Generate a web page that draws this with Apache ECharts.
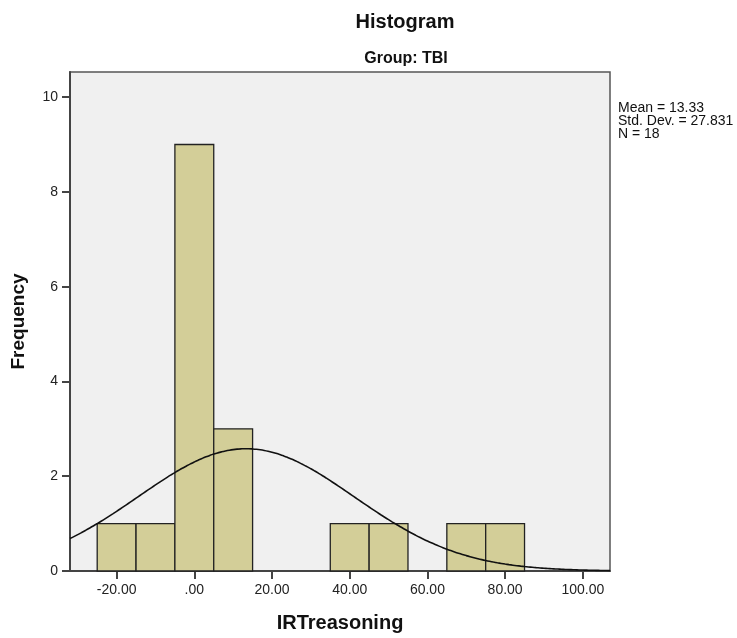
<!DOCTYPE html>
<html>
<head>
<meta charset="utf-8">
<script src="https://cdn.jsdelivr.net/npm/echarts@6/dist/echarts.min.js"></script>
<style>
html,body{margin:0;padding:0;background:#fff;}
#chart{width:737px;height:638px;}
</style>
</head>
<body>
<div id="chart"></div>
<script>
// Histogram bins (lower edge, upper edge) and frequencies
var binStarts = [-25, -15, -5, 5, 15, 25, 35, 45, 55, 65, 75];
var binEnds   = [-15, -5, 5, 15, 25, 35, 45, 55, 65, 75, 85];
var frequencies = [1, 1, 9, 3, 0, 0, 1, 1, 0, 1, 1];
// Fitted normal parameters shown in the chart
var stats = { mean: 13.33, sd: 27.831, n: 18 };
var binWidth = [10];
var xTicks = [-20, 0, 20, 40, 60, 80, 100];
var xTickLabels = ['-20.00', '.00', '20.00', '40.00', '60.00', '80.00', '100.00'];
var yTicks = [0, 2, 4, 6, 8, 10];

var barData = [];
for (var i = 0; i < frequencies.length; i++) {
  if (frequencies[i] > 0) barData.push([binStarts[i], binEnds[i], frequencies[i]]);
}
// normal curve: N * binWidth * pdf(x)
var curve = [];
for (var x = -32; x <= 107; x += 1) {
  var z = (x - stats.mean) / stats.sd;
  curve.push([x, stats.n * binWidth[0] * Math.exp(-0.5 * z * z) / (stats.sd * Math.sqrt(2 * Math.PI))]);
}

var chart = echarts.init(document.getElementById('chart'));
var font = 'Liberation Sans, Arial, sans-serif';
chart.setOption({
  animation: false,
  grid: { left: 70, right: 127, top: 72, bottom: 65, show: true,
          backgroundColor: '#f0f0f0', borderColor: '#555', borderWidth: 1.5 },
  xAxis: {
    type: 'value', min: -32, max: 107,
    name: 'IRTreasoning', nameLocation: 'middle', nameGap: 42,
    nameTextStyle: { fontFamily: font, fontSize: 20, fontWeight: 'bold', color: '#111' },
    splitLine: { show: false },
    axisLine: { onZero: false, lineStyle: { color: '#444', width: 2 } },
    axisTick: { show: true, length: 8, customValues: xTicks, lineStyle: { color: '#444', width: 2 } },
    axisLabel: { customValues: xTicks, fontFamily: font, fontSize: 14, color: '#222', margin: 12,
      formatter: function (v) { var k = xTicks.indexOf(v); return k >= 0 ? xTickLabels[k] : ''; } }
  },
  yAxis: {
    type: 'value', min: 0, max: 10.53,
    name: 'Frequency', nameLocation: 'middle', nameGap: 42,
    nameTextStyle: { fontFamily: font, fontSize: 19, fontWeight: 'bold', color: '#111' },
    splitLine: { show: false },
    axisLine: { show: true, onZero: false, lineStyle: { color: '#444', width: 2 } },
    axisTick: { show: true, length: 8, customValues: yTicks, lineStyle: { color: '#444', width: 2 } },
    axisLabel: { customValues: yTicks, fontFamily: font, fontSize: 14, color: '#222', margin: 12 }
  },
  graphic: [{
    type: 'text', x: 405, y: 22,
    style: { text: 'Histogram', fontFamily: font, fontSize: 20, fontWeight: 'bold', fill: '#111',
      align: 'center', verticalAlign: 'middle' }
  }, {
    type: 'text', x: 406, y: 59,
    style: { text: 'Group: TBI', fontFamily: font, fontSize: 16, fontWeight: 'bold', fill: '#111',
      align: 'center', verticalAlign: 'middle' }
  }, {
    type: 'text', x: 618, y: 102,
    style: { text: 'Mean = ' + stats.mean.toFixed(2) + '\nStd. Dev. = ' + stats.sd.toFixed(3) + '\nN = ' + stats.n,
      fontFamily: font, fontSize: 14, lineHeight: 13, fill: '#111' }
  }],
  series: [{
    type: 'custom',
    data: barData,
    encode: { x: [0, 1], y: 2 },
    renderItem: function (params, api) {
      var p0 = api.coord([api.value(0), api.value(2)]);
      var p1 = api.coord([api.value(1), 0]);
      return { type: 'rect',
        shape: { x: p0[0], y: p0[1], width: p1[0] - p0[0], height: p1[1] - p0[1] },
        style: { fill: '#d3ce98', stroke: '#222', lineWidth: 1.3 } };
    },
    z: 2
  }, {
    type: 'line', data: curve, showSymbol: false, smooth: true,
    lineStyle: { color: '#111', width: 1.6 }, z: 3
  }]
});
</script>
</body>
</html>
